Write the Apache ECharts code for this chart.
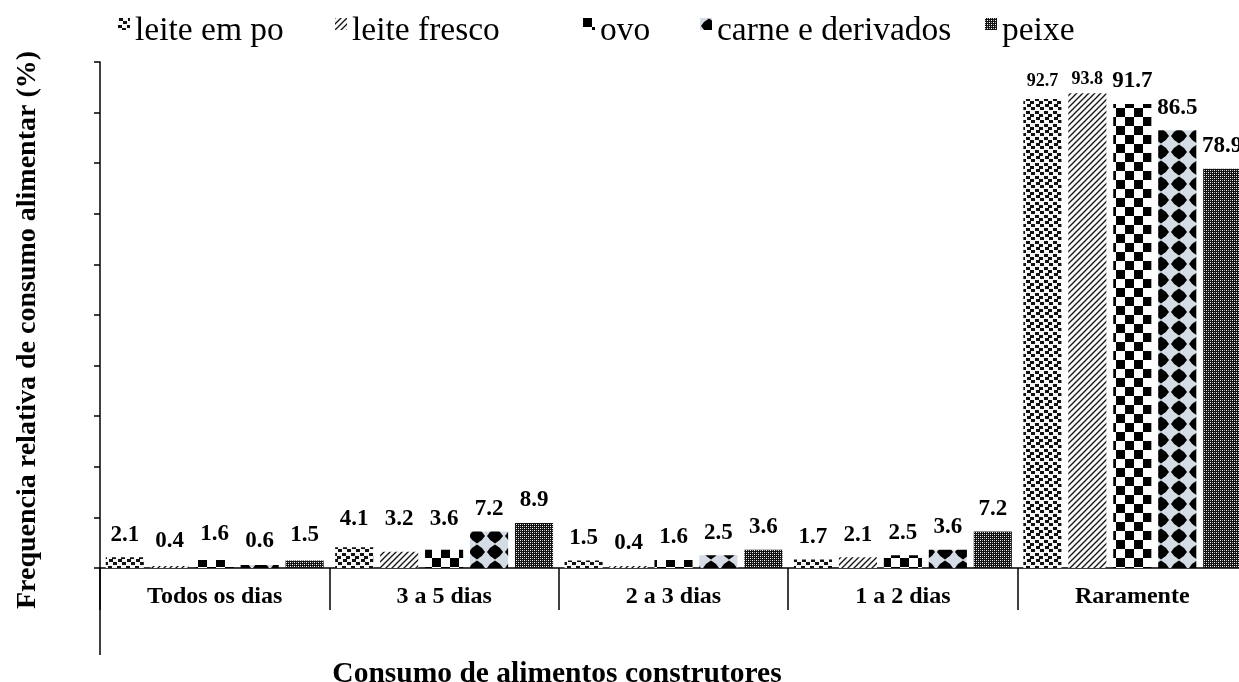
<!DOCTYPE html>
<html>
<head>
<meta charset="utf-8">
<title>Consumo de alimentos construtores</title>
<script src="https://cdn.jsdelivr.net/npm/echarts@6/dist/echarts.min.js"></script>
<style>
  html, body { margin: 0; padding: 0; background: #fff; }
  #chart { width: 1239px; height: 682px; }
</style>
</head>
<body>
<div id="chart"></div>
<script>
// Frequência relativa (%) de consumo de alimentos construtores
const categories = ['Todos os dias', '3 a 5 dias', '2 a 3 dias', '1 a 2 dias', 'Raramente'];
const seriesNames = ['leite em po', 'leite fresco', 'ovo', 'carne e derivados', 'peixe'];
const leiteEmPo    = [2.1, 4.1, 1.5, 1.7, 92.7];
const leiteFresco  = [0.4, 3.2, 0.4, 2.1, 93.8];
const ovo          = [1.6, 3.6, 1.6, 2.5, 91.7];
const carne        = [0.6, 7.2, 2.5, 3.6, 86.5];
const peixe        = [1.5, 8.9, 3.6, 7.2, 78.9];
const yTicks = { min: 0, max: 100, interval: 10 };

const FONT = "'Times New Roman', 'Liberation Serif', serif";
// plot area runs a little past the right edge of the page
const GRID = { left: 100, top: 62, width: 1147, bottom: 114, outerBoundsMode: 'none' };

// ---- fill patterns -------------------------------------------------------
function tile(w, h, draw) {
  const c = document.createElement('canvas');
  c.width = w; c.height = h;
  draw(c.getContext('2d'), w, h);
  return { image: c, repeat: 'repeat' };
}

const patterns = [
  // large confetti
  tile(9, 13, (g, w, h) => {
    g.fillStyle = '#f6f6f6'; g.fillRect(0, 0, w, h);
    g.fillStyle = '#111';
    [[1, 0], [5, 3], [0, 7], [4, 10]].forEach(([x, y]) => g.fillRect(x, y, 4, 3));
  }),
  // wide upward diagonal
  tile(6, 6, (g, w, h) => {
    g.fillStyle = '#fafafa'; g.fillRect(0, 0, w, h);
    g.strokeStyle = '#111'; g.lineWidth = 1.3;
    g.beginPath();
    g.moveTo(0, 6); g.lineTo(6, 0);
    g.moveTo(-1, 1); g.lineTo(1, -1);
    g.moveTo(5, 7); g.lineTo(7, 5);
    g.stroke();
  }),
  // large checker board
  tile(18, 18, (g, w, h) => {
    g.fillStyle = '#fff'; g.fillRect(0, 0, w, h);
    g.fillStyle = '#000';
    g.fillRect(0, 0, 9, 9); g.fillRect(9, 9, 9, 9);
  }),
  // diamonds on light blue-grey
  tile(18, 16, (g, w, h) => {
    g.fillStyle = '#d6dce5'; g.fillRect(0, 0, w, h);
    g.fillStyle = '#000';
    g.beginPath();
    g.moveTo(9, 0.5);
    g.quadraticCurveTo(14, 3, 17, 8);
    g.quadraticCurveTo(14, 13, 9, 15.5);
    g.quadraticCurveTo(4, 13, 1, 8);
    g.quadraticCurveTo(4, 3, 9, 0.5);
    g.fill();
  }),
  // small dark weave
  tile(4, 4, (g, w, h) => {
    g.fillStyle = '#111'; g.fillRect(0, 0, w, h);
    g.fillStyle = '#fff'; g.fillRect(0, 0, 1, 1); g.fillRect(2, 2, 1, 1);
    g.fillStyle = '#aaa'; g.fillRect(2, 0, 1, 1); g.fillRect(0, 2, 1, 1);
  })
];

// label placement tweaks: [series][category] -> label overrides
const labelTweaks = {
  0: { 1: { distance: 17 }, 4: { fontSize: 18, distance: 9 } },
  1: { 0: { distance: 13 }, 1: { distance: 21 }, 4: { fontSize: 18, distance: 5 } },
  2: { 0: { distance: 14 }, 1: { distance: 19 } },
  3: { 0: { distance: 12 } },
  4: { 0: { distance: 14 } }
};

const values = [leiteEmPo, leiteFresco, ovo, carne, peixe];

const series = seriesNames.map((name, si) => ({
  name,
  type: 'bar',
  barGap: '18%',
  barCategoryGap: '5%',
  itemStyle: { color: patterns[si] },
  label: {
    show: true,
    position: 'top',
    distance: 11,
    color: '#000',
    fontFamily: FONT,
    fontWeight: 'bold',
    fontSize: 23
  },
  data: values[si].map((v, ci) => {
    const t = labelTweaks[si] && labelTweaks[si][ci];
    return t ? { value: v, label: t } : v;
  })
}));

// one legend block per series, laid out along the top;
// the swatch sits in the upper part of a taller icon box
const legendLeft = [113, 330, 578, 695, 980];
const legend = seriesNames.map((name, i) => ({
  data: [name],
  left: legendLeft[i],
  top: 9,
  itemWidth: 12,
  itemHeight: 26,
  icon: 'path://M0,0H12V12H0ZM0,26H12',
  selectedMode: false,
  textStyle: { fontFamily: FONT, fontSize: 33.5, color: '#000' }
}));

const baseY = 682 - GRID.bottom;

const chart = echarts.init(document.getElementById('chart'), null, { renderer: 'canvas' });
chart.setOption({
  animation: false,
  backgroundColor: '#fff',
  legend,
  grid: GRID,
  xAxis: {
    type: 'category',
    data: categories,
    axisLine: { lineStyle: { color: '#000', width: 1.5 } },
    axisTick: { show: true, interval: 0, length: 42, lineStyle: { color: '#000', width: 1.5 } },
    axisLabel: {
      interval: 0, margin: 17, color: '#000',
      fontFamily: FONT, fontWeight: 'bold', fontSize: 24
    }
  },
  yAxis: {
    type: 'value',
    min: yTicks.min, max: yTicks.max, interval: yTicks.interval,
    axisLine: { show: true, lineStyle: { color: '#000', width: 1.5 } },
    axisTick: { show: true, length: 6, lineStyle: { color: '#000', width: 1.5 } },
    axisLabel: { show: false },
    splitLine: { show: false }
  },
  graphic: [
    {
      type: 'line',
      shape: { x1: GRID.left, y1: baseY, x2: GRID.left, y2: 655 },
      style: { stroke: '#000', lineWidth: 1.5 }
    },
    {
      type: 'text',
      x: 557, y: 674,
      style: {
        text: 'Consumo de alimentos construtores',
        fontFamily: FONT, fontWeight: 'bold', fontSize: 29.5, fill: '#000',
        align: 'center', verticalAlign: 'middle'
      }
    },
    {
      type: 'text',
      x: 28, y: 330,
      rotation: Math.PI / 2,
      style: {
        text: 'Frequencia relativa de consumo alimentar (%)',
        fontFamily: FONT, fontWeight: 'bold', fontSize: 28, fill: '#000',
        align: 'center', verticalAlign: 'middle'
      }
    }
  ],
  series
});
</script>
</body>
</html>
